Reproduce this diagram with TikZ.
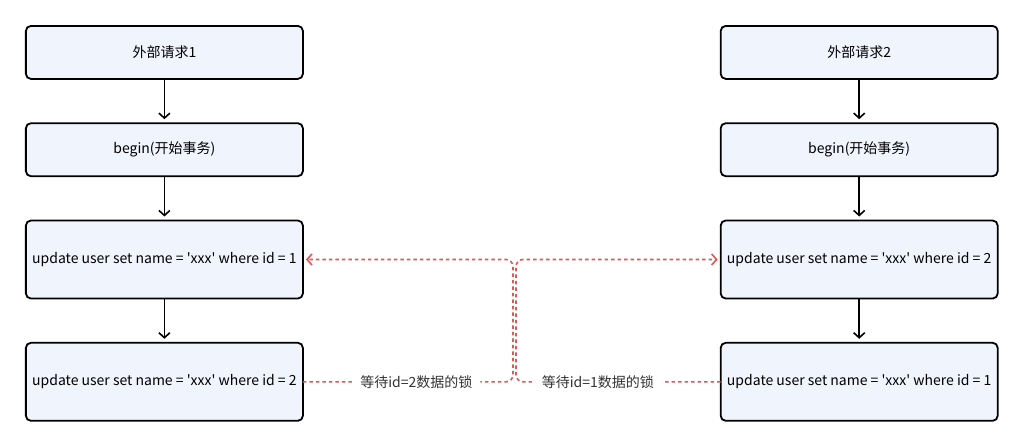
\documentclass[tikz,border=0pt]{standalone}
\usepackage{fontspec}
\setmainfont{Noto Sans CJK SC}
\usetikzlibrary{matrix,arrows.meta}
\definecolor{boxfill}{RGB}{240,244,253}
\definecolor{lockred}{RGB}{222,88,88}
\newcommand{\sq}{\textquotesingle}

\begin{document}
\begin{tikzpicture}[ampersand replacement=\&, font=\fontsize{14}{17}\selectfont]
  \useasboundingbox (0pt,0pt) rectangle (1024pt,-445pt);
  \tikzset{
    stepbox/.style={draw=black, line width=1.8pt, fill=boxfill, rounded corners=5pt,
      minimum width=277pt, inner sep=0pt},
    lockline/.style={draw=lockred, line width=1.6pt, dash pattern=on 3.5pt off 3pt, rounded corners=7pt},
    locklabel/.style={fill=white, inner xsep=8pt, inner ysep=2pt, text=black!80}
  }
  \matrix(m)[matrix of nodes, anchor=north west, inner sep=0pt, outer sep=0pt,
    row sep=42.5pt, column sep=416pt,
    nodes={stepbox}, row 1/.style={nodes={minimum height=53pt}},
    row 2/.style={nodes={minimum height=53pt}},
    row 3/.style={nodes={minimum height=78pt}},
    row 4/.style={nodes={minimum height=78pt}}] at (25pt,-25pt)
  { 外部请求1 \& 外部请求2 \\
    begin(开始事务) \& begin(开始事务) \\
    update user set name = \sq xxx\sq{} where id = 1 \& update user set name = \sq xxx\sq{} where id = 2 \\
    update user set name = \sq xxx\sq{} where id = 2 \& update user set name = \sq xxx\sq{} where id = 1 \\};
  \path[-{Straight Barb[length=5pt,width=11pt]}, line width=1.6pt, shorten >=4pt]
    (m-1-1) edge (m-2-1) (m-2-1) edge (m-3-1) (m-3-1) edge (m-4-1)
    (m-1-2) edge (m-2-2) (m-2-2) edge (m-3-2) (m-3-2) edge (m-4-2);
  % waiting for each other's lock
  \coordinate (waitL) at (513pt,-320pt);
  \coordinate (waitR) at (516pt,-320pt);
  \draw[lockline, -{Straight Barb[length=5pt,width=11pt]}, shorten >=3pt] (m-4-1.east) -| node[locklabel, pos=0.27] {等待id=2数据的锁} (waitL) |- (m-3-1.east);
  \draw[lockline, -{Straight Barb[length=5pt,width=11pt]}, shorten >=3pt] (m-4-2.west) -| node[locklabel, pos=0.3] {等待id=1数据的锁} (waitR) |- (m-3-2.west);
\end{tikzpicture}
\end{document}
